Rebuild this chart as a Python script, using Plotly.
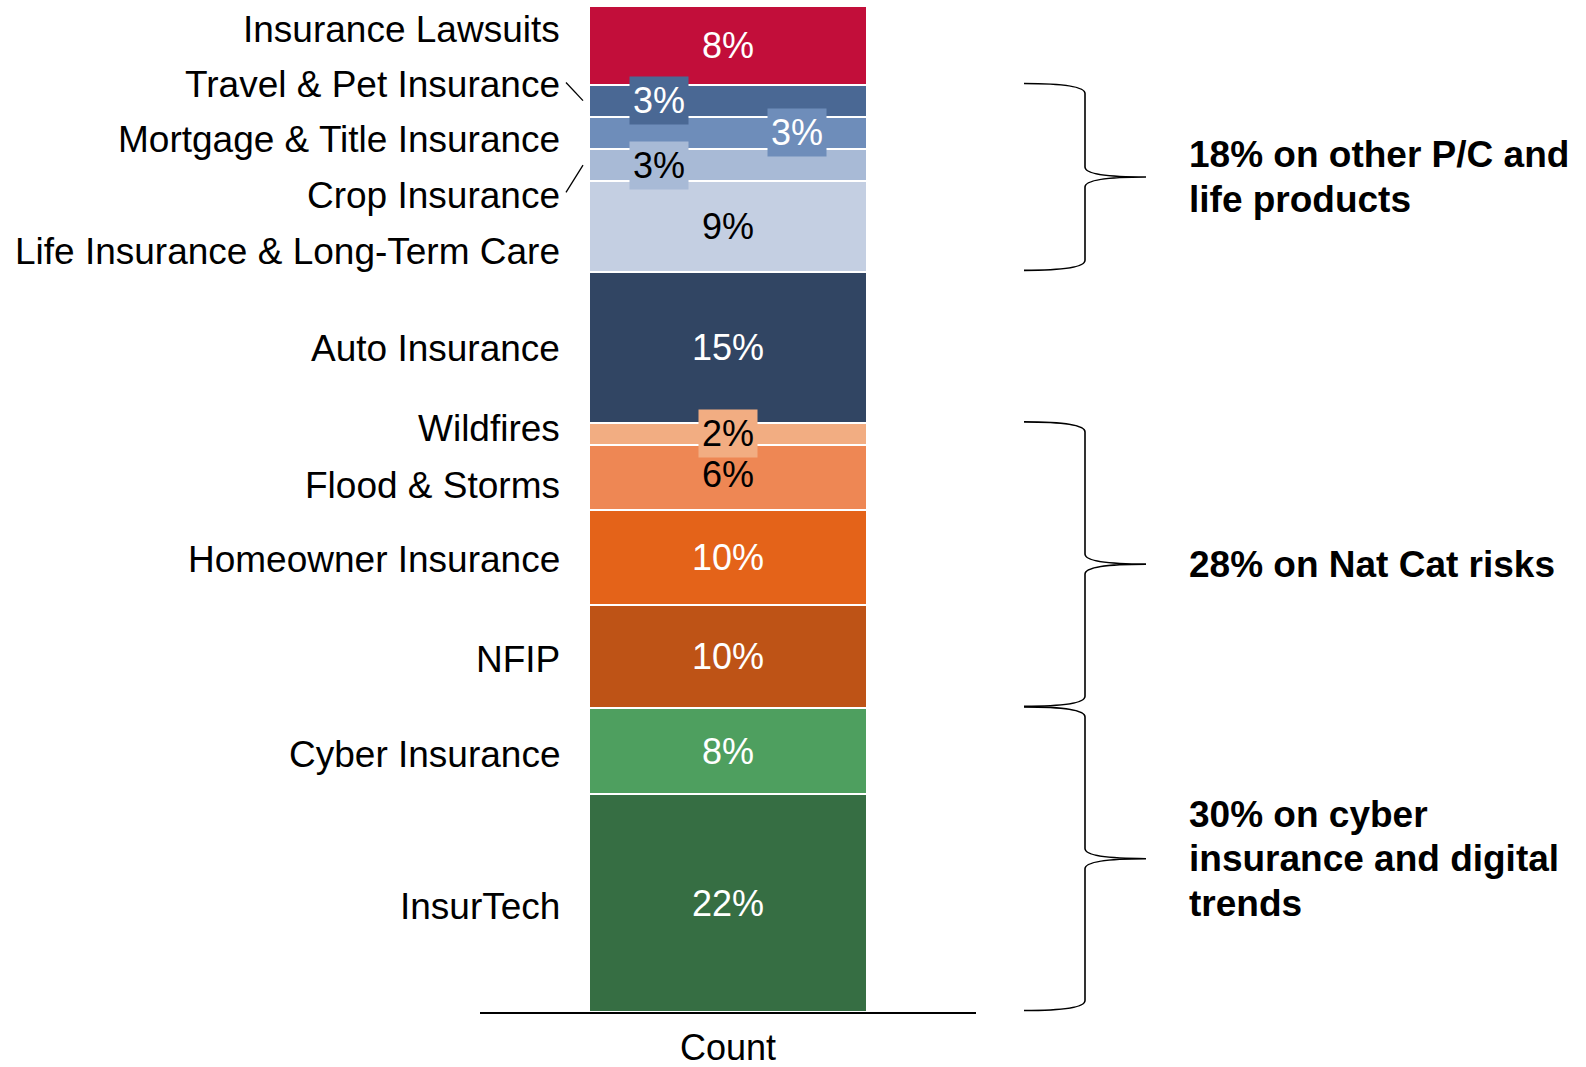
import plotly.graph_objects as go

# ---------------- data (bottom to top of the stacked bar) ----------------
categories = [
    "InsurTech", "Cyber Insurance", "NFIP", "Homeowner Insurance",
    "Flood & Storms", "Wildfires", "Auto Insurance",
    "Life Insurance & Long-Term Care", "Crop Insurance",
    "Mortgage & Title Insurance", "Travel & Pet Insurance", "Insurance Lawsuits",
]
shares = [21.6, 8.6, 10.2, 9.5, 6.4, 2.2, 15.0, 9.0, 3.2, 3.2, 3.2, 7.85]
share_labels = ["22%", "8%", "10%", "10%", "6%", "2%", "15%", "9%", "3%", "3%", "3%", "8%"]
x_category = ["Count"]

group_labels = [
    ["18% on other P/C and", "life products"],
    ["28% on Nat Cat risks"],
    ["30% on cyber", "insurance and digital", "trends"],
]
group_ranges = [(7, 10), (2, 5), (0, 1)]  # (first, last) category index covered

# ---------------- styles ----------------
colors = ["#366E43", "#4E9F5F", "#BE5316", "#E46319", "#EE8754", "#F2AD82",
          "#314563", "#C4CFE2", "#A8BAD6", "#6E8DBA", "#4A6894", "#C20E3A"]
text_colors = ["white", "white", "white", "white", "black", "black",
               "white", "black", "black", "white", "white", "white"]
label_boxed = [False, False, False, False, False, True,
               False, False, True, True, True, False]
label_xshift = [0, 0, 0, 0, 0, 0, 0, 0, -69, 69, -69, 0]
label_yshift = [0, 0, 0, 0, 3, 0, 0, 0, 0, 0, 0, 0]
name_yshift = [-3, -3, -3, -2, -8, 5, -1, -25, -30, -7, 16, 16]

FONT = "Arial, 'Liberation Sans', sans-serif"
W, H = 1586, 1067
L, R, T, B = 480, 610, 5, 55
pw = W - L - R
LINE_GAP = 44.5

def px_to_paper_x(px):
    return (px - L) / pw

fig = go.Figure()

bottoms = []
acc = 0.0
for cat, val, col in zip(categories, shares, colors):
    bottoms.append(acc)
    fig.add_trace(go.Bar(
        x=x_category, y=[val], name=cat,
        marker=dict(color=col, line=dict(color="white", width=2)),
        hoverinfo="name+y",
    ))
    acc += val

annotations = []
shapes = []

for i, (cat, val) in enumerate(zip(categories, shares)):
    center = bottoms[i] + val / 2
    ann = dict(
        x=0, y=center, xref="x", yref="y", text=share_labels[i], showarrow=False,
        xshift=label_xshift[i], yshift=label_yshift[i],
        font=dict(family=FONT, size=36, color=text_colors[i]),
    )
    if label_boxed[i]:
        ann.update(bgcolor=colors[i], borderpad=3)
    annotations.append(ann)
    annotations.append(dict(
        x=px_to_paper_x(562), y=center, xref="paper", yref="y", text=cat,
        showarrow=False, xanchor="right", yshift=name_yshift[i],
        font=dict(family=FONT, size=37, color="black"),
    ))

# leader lines for the thin segments
ti = categories.index("Travel & Pet Insurance")
ci = categories.index("Crop Insurance")
shapes.append(dict(type="line", xref="paper", yref="y",
                   x0=px_to_paper_x(566), y0=bottoms[ti] + shares[ti] + 0.2,
                   x1=px_to_paper_x(583), y1=bottoms[ti] + shares[ti] / 2,
                   line=dict(color="black", width=1.3)))
shapes.append(dict(type="line", xref="paper", yref="y",
                   x0=px_to_paper_x(566), y0=bottoms[ci] - 1.1,
                   x1=px_to_paper_x(583), y1=bottoms[ci] + shares[ci] / 2,
                   line=dict(color="black", width=1.3)))

# curly braces
x0 = px_to_paper_x(1024)
xv = px_to_paper_x(1085)
xt = px_to_paper_x(1146)
d = 1.0
for (a, b), lines in zip(group_ranges, group_labels):
    bot = bottoms[a] + 0.15
    top = bottoms[b] + shares[b] + 0.1
    mid = (top + bot) / 2
    path = (f"M {x0},{top} Q {xv},{top} {xv},{top - d} "
            f"L {xv},{mid + d} Q {xv},{mid} {xt},{mid} "
            f"Q {xv},{mid} {xv},{mid - d} "
            f"L {xv},{bot + d} Q {xv},{bot} {x0},{bot}")
    shapes.append(dict(type="path", xref="paper", yref="y", path=path,
                       line=dict(color="black", width=1.6)))
    n = len(lines)
    for k, line in enumerate(lines):
        annotations.append(dict(
            x=px_to_paper_x(1187), y=mid, xref="paper", yref="y",
            text=f"<b>{line}</b>", showarrow=False, xanchor="left", align="left",
            yshift=((n - 1) / 2 - k) * LINE_GAP,
            font=dict(family=FONT, size=37, color="black"),
        ))

fig.update_layout(
    width=W, height=H,
    margin=dict(l=L, r=R, t=T, b=B, autoexpand=False),
    barmode="stack", bargap=0.44,
    paper_bgcolor="white", plot_bgcolor="white",
    showlegend=False,
    font=dict(family=FONT, size=36, color="black"),
    annotations=annotations, shapes=shapes,
    xaxis=dict(showline=True, linecolor="black", linewidth=2, showgrid=False,
               ticks="outside", ticklen=3, tickcolor="rgba(0,0,0,0)",
               tickfont=dict(family=FONT, size=36, color="black"),
               range=[-0.5, 0.5], automargin=False, zeroline=False),
    yaxis=dict(visible=False, range=[0, 100], automargin=False),
)

fig.write_html("out.html")
